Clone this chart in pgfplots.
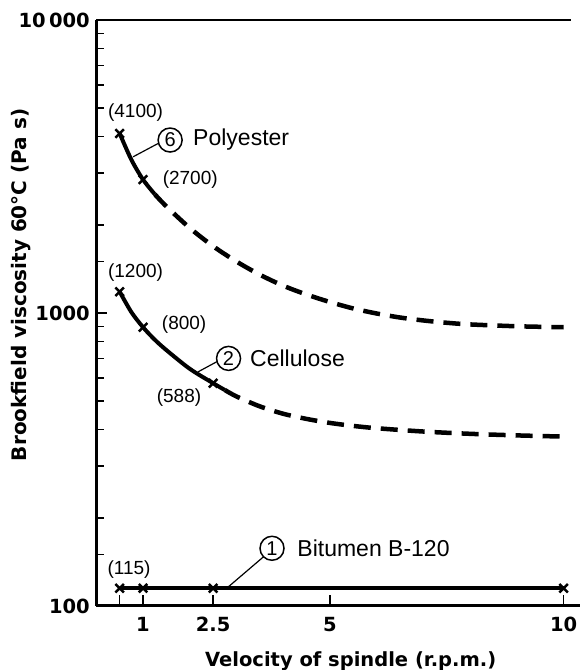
\documentclass[border=0pt]{standalone}
\usepackage{fontspec}
\setmainfont{Liberation Sans}
\newfontfamily\dvb{DejaVu Sans}
\usepackage{pgfplots}
\pgfplotsset{compat=1.18}
\begin{document}
\begin{tikzpicture}
\useasboundingbox (-96.3pt,-64pt) rectangle (484.7pt,606pt);
\begin{axis}[
  scale only axis, width=479pt, height=586pt,
  at={(0,0)}, anchor=south west,
  ymode=log, xmin=0, xmax=10.25, ymin=100, ymax=10000,
  axis x line*=bottom, axis y line*=left,
  axis line style={line width=3pt},
  tick align=inside,
  xtick={0.5,1,2.5,5,10}, xticklabels={,1,2.5,5,10},
  ytick={100,1000,10000}, yticklabels={100,1000,10\,000},
  minor ytick={150,200,300,400,500,600,700,800,900,1500,2000,3000,4000,5000,6000,7000,8000,9000},
  major tick length=11pt, minor tick length=8pt,
  every tick/.style={black, line width=1.5pt},
  xticklabel style={font=\dvb\bfseries\fontsize{19.5}{23}\selectfont, yshift=-8pt},
  yticklabel style={font=\dvb\bfseries\fontsize{19.5}{23}\selectfont, xshift=-3pt},
  xlabel={Velocity of spindle (r.p.m.)},
  ylabel={Brookfield viscosity 60°C (Pa s)},
  xlabel style={font=\dvb\bfseries\fontsize{19.5}{23}\selectfont, at={(axis description cs:0.531,-0.094)}, anchor=center},
  ylabel style={font=\dvb\bfseries\fontsize{20}{24}\selectfont, at={(axis description cs:-0.157,0.548)}, anchor=center, rotate=0},
  clip=false,
]
% top border and bottom-axis overhang
\draw[line width=2pt] (rel axis cs:0,1) -- (axis cs:10.15,10000);
\draw[line width=3pt] (axis cs:10.2,100) -- (axis cs:10.35,100);
% Bitumen B-120
\addplot[line width=3.5pt, mark=x, mark size=6pt, mark options={line width=2.5pt}]
  coordinates {(0.5,115)(1,115)(2.5,115)(10,115)};
% Polyester
\addplot[line width=4pt, smooth] coordinates {(0.5,4100)(0.75,3336)(1,2853)(1.25,2544)};
\addplot[only marks, mark=x, mark size=6pt, mark options={line width=2.5pt}] coordinates {(0.5,4100)(1,2853)};
\addplot[line width=4.5pt, smooth, dash pattern=on 17pt off 10pt] coordinates {
 (1.25,2544)(1.5,2310)(2,1951)(2.5,1690)(3,1498)(3.5,1351)(4,1239)(4.5,1156)(5,1090)(5.5,1036)(6,996)(6.5,965)(7,943)(7.5,926)(8,914)(9,901)(10,894)};
% Cellulose
\addplot[line width=4pt, smooth] coordinates {(0.5,1182)(0.75,1007)(1,894)(1.25,811)(1.5,747)(2,645)(2.5,576)(2.75,546)};
\addplot[only marks, mark=x, mark size=6pt, mark options={line width=2.5pt}] coordinates {(0.5,1182)(1,894)(2.5,576)};
\addplot[line width=4.5pt, smooth, dash pattern=on 17pt off 10pt] coordinates {
 (2.75,546)(3,519)(3.5,480)(4,453)(4.5,435)(5,421.5)(5.5,411.7)(6,404.3)(7,394)(8,387)(9,382.2)(10,378.6)};
% annotations
\draw[line width=1.2pt] (axis cs:0.79,3414) -- (axis cs:1.33,3795);
\node[circle, draw, line width=1.5pt, minimum size=24pt, inner sep=0pt, font=\fontsize{20}{24}\selectfont] at (axis cs:1.58,3894) {6};
\node[anchor=west, inner sep=0pt, font=\fontsize{23}{27}\selectfont] at (axis cs:2.07,3894) {Polyester};
\node[inner sep=0pt, font=\fontsize{19}{23}\selectfont] at (axis cs:0.84,4815) {(4100)};
\node[inner sep=0pt, font=\fontsize{19}{23}\selectfont] at (axis cs:2.01,2845) {(2700)};

\draw[line width=1.2pt] (axis cs:2.18,630) -- (axis cs:2.58,682);
\node[circle, draw, line width=1.5pt, minimum size=24pt, inner sep=0pt, font=\fontsize{20}{24}\selectfont] at (axis cs:2.83,700) {2};
\node[anchor=west, inner sep=0pt, font=\fontsize{23}{27}\selectfont] at (axis cs:3.29,700) {Cellulose};
\node[inner sep=0pt, font=\fontsize{19}{23}\selectfont] at (axis cs:0.84,1369) {(1200)};
\node[inner sep=0pt, font=\fontsize{19}{23}\selectfont] at (axis cs:1.88,910) {(800)};
\node[inner sep=0pt, font=\fontsize{19}{23}\selectfont] at (axis cs:1.77,513) {(588)};

\draw[line width=1.2pt] (axis cs:2.83,116.4) -- (axis cs:3.58,147.3);
\node[circle, draw, line width=1.5pt, minimum size=24pt, inner sep=0pt, font=\fontsize{20}{24}\selectfont] at (axis cs:3.76,157.4) {1};
\node[anchor=west, inner sep=0pt, font=\fontsize{23}{27}\selectfont] at (axis cs:4.30,157.4) {Bitumen B-120};
\node[inner sep=0pt, font=\fontsize{19}{23}\selectfont] at (axis cs:0.70,132.7) {(115)};
\end{axis}
\end{tikzpicture}
\end{document}
